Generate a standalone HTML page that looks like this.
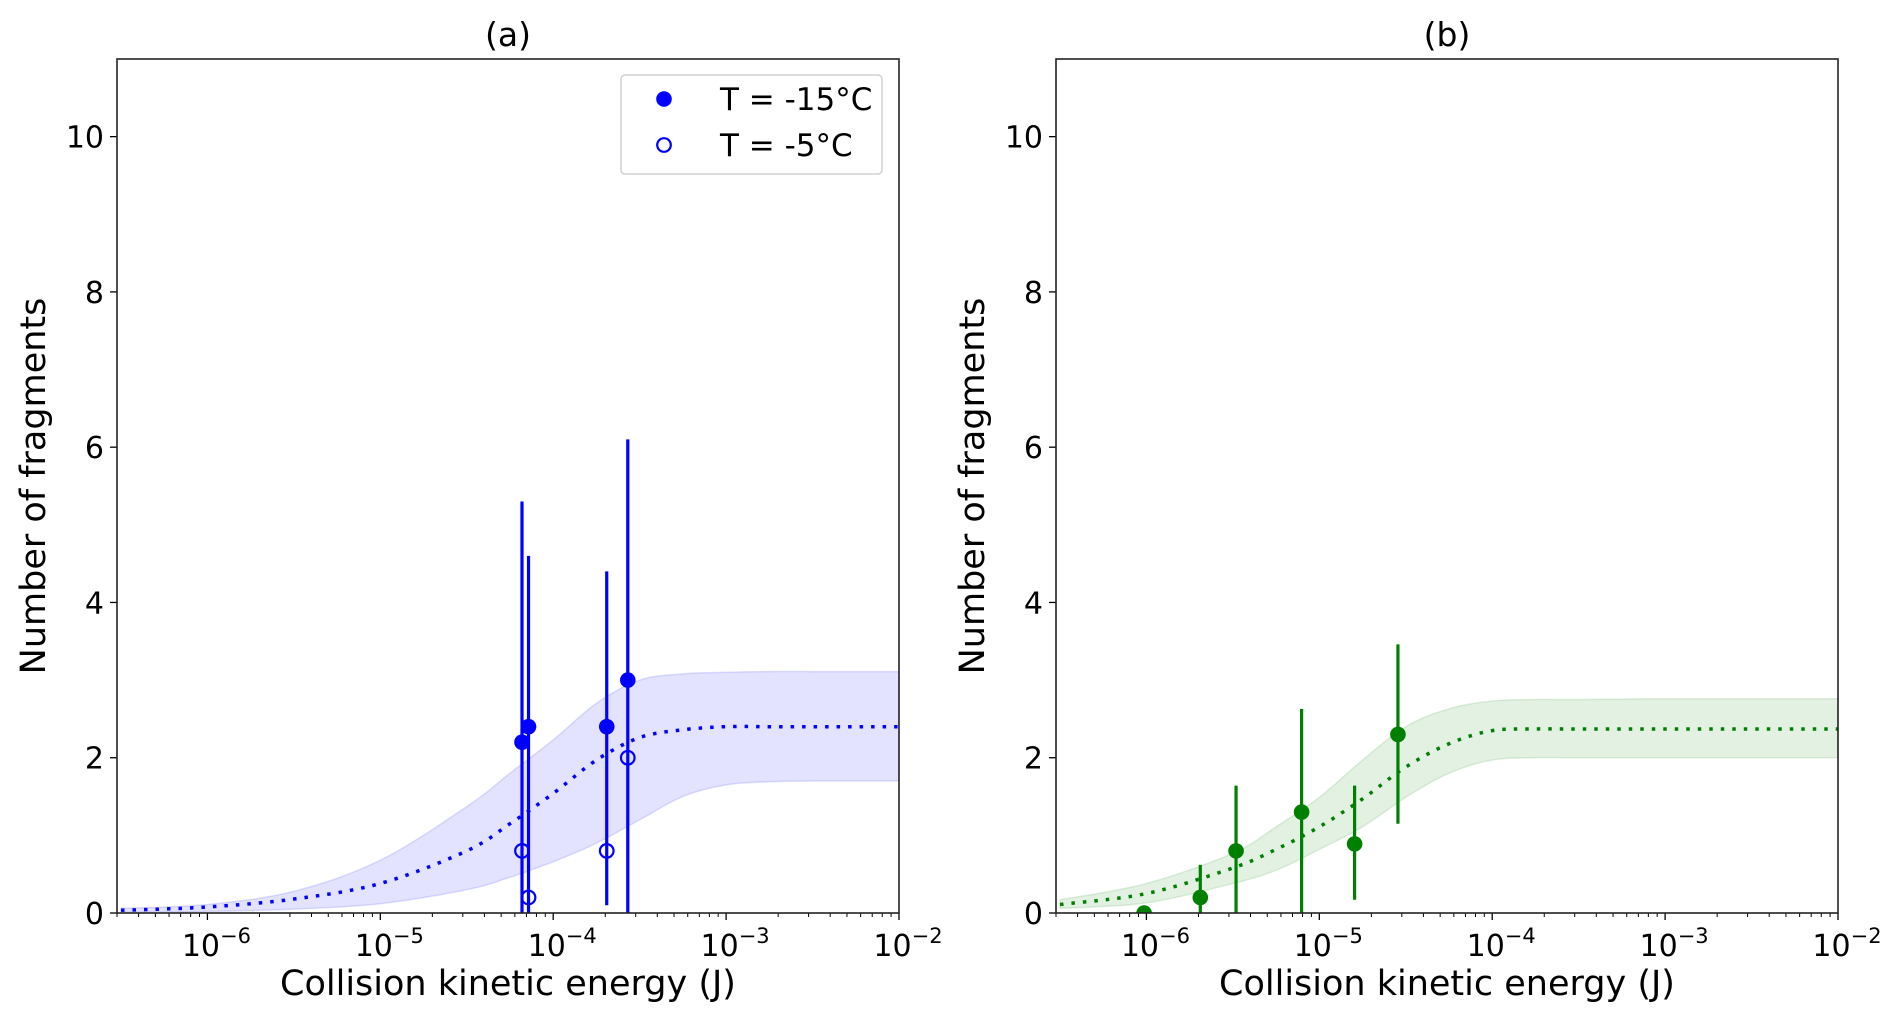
<!DOCTYPE html>
<html><head><meta charset="utf-8"><style>
html,body{margin:0;padding:0;background:#fff;}
svg{display:block;font-family:"DejaVu Sans","Liberation Sans",sans-serif;}
</style></head><body>
<svg id="fig" width="1892" height="1021" viewBox="0 0 1892 1021" xmlns="http://www.w3.org/2000/svg"></svg>
<script>
// ---- data ----
const yTicks = [0, 2, 4, 6, 8, 10];
const xTickExps = [-6, -5, -4, -3, -2];
// panel a: data points (energy J, fragments)
const aColdX = [6.6e-5, 7.2e-5, 2.04e-4, 2.7e-4];
const aColdY = [2.2, 2.4, 2.4, 3.0];
const aColdLo = [0, 0, 0.1, 0];
const aColdHi = [5.3, 4.6, 4.4, 6.1];
const aWarmX = [6.6e-5, 7.2e-5, 2.04e-4, 2.7e-4];
const aWarmY = [0.8, 0.2, 0.8, 2.0];
// panel a fit curve sampled at log10(E)
const aFitLog = [-6.5, -6, -5.5, -5, -4.5, -4.25, -4, -3.75, -3.5, -3.25, -3, -2.75, -2.5, -2];
const aFitMid = [0.035, 0.077, 0.18, 0.38, 0.80, 1.15, 1.54, 1.97, 2.26, 2.36, 2.40, 2.40, 2.40, 2.40];
const aFitUp = [0.06, 0.11, 0.28, 0.68, 1.37, 1.80, 2.23, 2.70, 3.00, 3.08, 3.10, 3.11, 3.11, 3.11];
const aFitLow = [0.01, 0.02, 0.05, 0.12, 0.30, 0.46, 0.66, 0.90, 1.20, 1.50, 1.65, 1.69, 1.70, 1.70];
// panel b
const bX = [0.97e-6, 2.05e-6, 3.3e-6, 7.9e-6, 1.6e-5, 2.85e-5];
const bY = [0.0, 0.2, 0.8, 1.3, 0.89, 2.3];
const bLo = [0, 0, 0, 0, 0.17, 1.15];
const bHi = [0, 0.62, 1.64, 2.63, 1.64, 3.46];
const bFitLog = [-6.5, -6, -5.5, -5.25, -5, -4.75, -4.5, -4.25, -4, -3.75, -3.5, -3, -2.5, -2];
const bFitMid = [0.11, 0.25, 0.58, 0.82, 1.11, 1.47, 1.88, 2.18, 2.35, 2.37, 2.37, 2.37, 2.37, 2.37];
const bFitUp = [0.17, 0.38, 0.77, 1.11, 1.49, 1.97, 2.40, 2.63, 2.73, 2.75, 2.75, 2.76, 2.76, 2.76];
const bFitLow = [0.06, 0.13, 0.38, 0.55, 0.82, 1.11, 1.49, 1.80, 1.97, 2.00, 2.00, 2.00, 2.00, 2.00];

const NS = "http://www.w3.org/2000/svg";
const svg = document.getElementById('fig');
function mk(tag, attrs, parent) {
  const e = document.createElementNS(NS, tag);
  for (const k in attrs) e.setAttribute(k, attrs[k]);
  (parent || svg).appendChild(e);
  return e;
}
const LOGMIN = Math.log10(3e-7), LOGMAX = -2, YMAX = 11;
function makeAxes(left, right, top, bottom) {
  return {
    x: v => left + (Math.log10(v) - LOGMIN) / (LOGMAX - LOGMIN) * (right - left),
    xl: l => left + (l - LOGMIN) / (LOGMAX - LOGMIN) * (right - left),
    y: v => bottom - v / YMAX * (bottom - top),
    left, right, top, bottom
  };
}
function catmull(logs, vals, ax) {
  const pts = [];
  const n = logs.length;
  for (let i = 0; i < n - 1; i++) {
    const p0 = vals[Math.max(i - 1, 0)], p1 = vals[i], p2 = vals[i + 1], p3 = vals[Math.min(i + 2, n - 1)];
    const l0 = logs[Math.max(i - 1, 0)], l1 = logs[i], l2 = logs[i + 1], l3 = logs[Math.min(i + 2, n - 1)];
    for (let s = 0; s < 10; s++) {
      const t = s / 10, t2 = t * t, t3 = t2 * t;
      const cr = (a, b, c, d) => 0.5 * ((2 * b) + (-a + c) * t + (2 * a - 5 * b + 4 * c - d) * t2 + (-a + 3 * b - 3 * c + d) * t3);
      pts.push([ax.xl(cr(l0, l1, l2, l3)), ax.y(cr(p0, p1, p2, p3))]);
    }
  }
  pts.push([ax.xl(logs[n - 1]), ax.y(vals[n - 1])]);
  return pts;
}
function drawPanel(ax, title, id) {
  const g = mk('g', {});
  
  
  yTicks.forEach(v => {
    const y = ax.y(v);
    const t = mk('line', {x1: ax.left - 7, x2: ax.left, y1: y, y2: y, stroke: '#000', 'stroke-width': 1.3}, g);
    
    
    const lb = mk('text', {x: ax.left - 13, y: y + 11, 'text-anchor': 'end', 'font-size': 30, fill: '#000'}, g);
    lb.textContent = v;
    
    
  });
  for (let e = -7; e <= -2; e++) {
    for (let m = 1; m <= 9; m++) {
      const l = e + Math.log10(m);
      if (l < LOGMIN - 1e-9 || l > LOGMAX + 1e-9) continue;
      const x = ax.xl(l);
      const len = m === 1 ? 7 : 4;
      const t = mk('line', {x1: x, x2: x, y1: ax.bottom, y2: ax.bottom + len, stroke: '#000', 'stroke-width': m === 1 ? 1.3 : 1}, g);
      
      
    }
  }
  xTickExps.forEach(e => {
    const x = ax.xl(e);
    const lb = mk('text', {x: x + 9, y: ax.bottom + 43, 'text-anchor': 'middle', 'font-size': 30, fill: '#000'}, g);
    lb.textContent = '10';
    const sup = mk('tspan', {dy: -13, 'font-size': 21}, lb);
    sup.textContent = '\u2212' + (-e);
    
    
  });
  const xt = mk('text', {x: (ax.left + ax.right) / 2, y: ax.bottom + 82, 'text-anchor': 'middle', 'font-size': 35, fill: '#000'}, g);
  xt.textContent = 'Collision kinetic energy (J)';
  
  
  const cy = (ax.top + ax.bottom) / 2;
  const yx = ax.left - 72;
  const yt = mk('text', {x: yx, y: cy, 'text-anchor': 'middle', 'font-size': 35, fill: '#000', transform: `rotate(-90 ${yx} ${cy})`}, g);
  yt.textContent = 'Number of fragments';
  
  
  const tt = mk('text', {x: (ax.left + ax.right) / 2, y: 46, 'text-anchor': 'middle', 'font-size': 33, fill: '#000'}, g);
  tt.textContent = title;
  
  
  return g;
}
function drawBand(ax, logs, lo, hi, fill, edge, g) {
  const up = catmull(logs, hi, ax), dn = catmull(logs, lo, ax).reverse();
  const d = 'M' + up.concat(dn).map(p => p[0].toFixed(1) + ',' + p[1].toFixed(1)).join('L') + 'Z';
  const p = mk('path', {d, fill, stroke: edge, 'stroke-width': 1.5}, g);
  
  
}
function drawLine(ax, logs, vals, color, g) {
  const pts = catmull(logs, vals, ax);
  const d = 'M' + pts.map(p => p[0].toFixed(1) + ',' + p[1].toFixed(1)).join('L');
  const p = mk('path', {d, fill: 'none', stroke: color, 'stroke-width': 3.5, 'stroke-dasharray': '3.5 8'}, g);
  
  
}
function drawErr(ax, xs, lo, hi, color, g) {
  xs.forEach((v, i) => {
    if (hi[i] <= lo[i]) return;
    const x = ax.x(v);
    const l = mk('line', {x1: x, x2: x, y1: ax.y(lo[i]), y2: ax.y(hi[i]), stroke: color, 'stroke-width': 3.2}, g);
    
    
  });
}
function drawPts(ax, xs, ys, color, filled, g, name) {
  xs.forEach((v, i) => {
    const c = mk('circle', {cx: ax.x(v), cy: ax.y(ys[i]), r: filled ? 7.8 : 6.8, fill: filled ? color : 'none', stroke: color, 'stroke-width': filled ? 0 : 2.2}, g);
    
    
  });
}
function frame(ax, g) {
  const r = mk('rect', {x: ax.left, y: ax.top, width: ax.right - ax.left, height: ax.bottom - ax.top, fill: 'none', stroke: '#222', 'stroke-width': 1.6}, g);
  
  
}
function clipFor(ax, id) {
  const defs = mk('defs', {});
  const cp = mk('clipPath', {id}, defs);
  mk('rect', {x: ax.left, y: ax.top, width: ax.right - ax.left, height: ax.bottom - ax.top}, cp);
  const g = mk('g', {'clip-path': `url(#${id})`});
  
  
  return g;
}
// Panel a
const A = makeAxes(117, 899, 59, 913);
drawPanel(A, '(a)', 'a');
const ga = clipFor(A, 'clipA');
drawBand(A, aFitLog, aFitLow, aFitUp, 'rgba(0,0,255,0.11)', 'rgba(0,0,255,0.12)', ga);
drawLine(A, aFitLog, aFitMid, '#0000ff', ga);
drawErr(A, aColdX, aColdLo, aColdHi, '#0000ff', ga);
drawPts(A, aColdX, aColdY, '#0000ff', true, ga, 'point-minus15c');
drawPts(A, aWarmX, aWarmY, '#0000ff', false, ga, 'point-minus5c');
frame(A, svg);
// legend
const lg = mk('g', {});


const lr = mk('rect', {x: 621, y: 75, width: 261, height: 99, rx: 4, fill: '#fff', stroke: '#d0d0d0', 'stroke-width': 1.5}, lg);


const lc1 = mk('circle', {cx: 664, cy: 99, r: 7.8, fill: '#0000ff'}, lg);


const lt1 = mk('text', {x: 720, y: 110, 'font-size': 31, fill: '#000'}, lg);
lt1.textContent = 'T = -15°C';


const lc2 = mk('circle', {cx: 664, cy: 145, r: 6.8, fill: 'none', stroke: '#0000ff', 'stroke-width': 2.2}, lg);


const lt2 = mk('text', {x: 720, y: 156, 'font-size': 31, fill: '#000'}, lg);
lt2.textContent = 'T = -5°C';


// Panel b
const B = makeAxes(1056, 1838, 59, 913);
drawPanel(B, '(b)', 'b');
const gb = clipFor(B, 'clipB');
drawBand(B, bFitLog, bFitLow, bFitUp, 'rgba(0,128,0,0.11)', 'rgba(0,128,0,0.12)', gb);
drawLine(B, bFitLog, bFitMid, '#008000', gb);
drawErr(B, bX, bLo, bHi, '#008000', gb);
drawPts(B, bX, bY, '#008000', true, gb, 'point-green');
frame(B, svg);
</script>
</body></html>
